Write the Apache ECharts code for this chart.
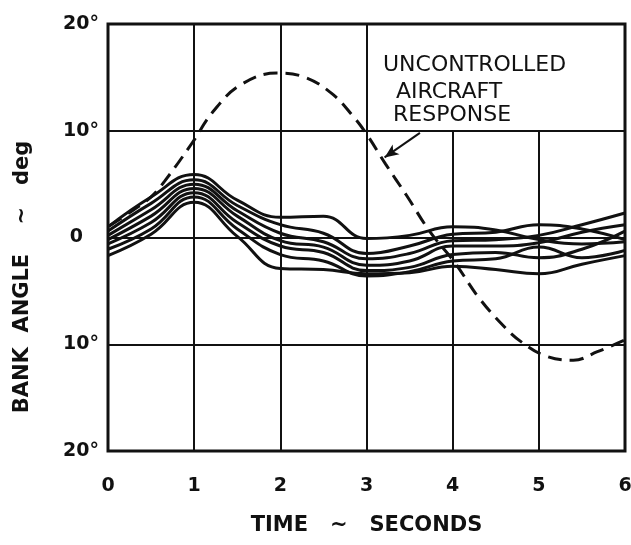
<!DOCTYPE html>
<html>
<head>
<meta charset="utf-8">
<script src="https://cdn.jsdelivr.net/npm/echarts@6/dist/echarts.min.js"></script>
<style>
  html, body { margin: 0; padding: 0; background: #fff; }
  #chart { width: 631px; height: 545px; }
</style>
</head>
<body>
<div id="chart"></div>
<script>
// time axis for the controlled runs (seconds)
const times = [0, 0.5, 1, 1.5, 2, 2.5, 3, 3.5, 4, 4.5, 5, 5.5, 6];

// controlled responses, bank angle in deg
const run1 = [1.0, 3.8, 5.9, 3.5, 1.9, 2.0, -0.1, 0.2, 1.0, 0.7, -0.2, -0.6, -0.4];
const run2 = [0.6, 3.2, 5.4, 3.0, 1.2, 0.4, -1.5, -0.8, 0.3, 0.5, 1.2, 0.8, -0.2];
const run3 = [0.2, 2.6, 5.0, 2.5, 0.4, -0.4, -2.0, -1.5, -0.3, -0.2, 0.2, 1.2, 2.3];
const run4 = [-0.2, 2.0, 4.6, 2.0, -0.3, -0.9, -2.6, -2.2, -0.8, -0.8, -0.5, 0.5, 1.2];
const run5 = [-0.6, 1.4, 4.2, 1.4, -0.8, -1.4, -3.1, -2.8, -1.6, -1.4, -1.9, -1.1, 0.6];
const run6 = [-1.1, 0.8, 3.8, 0.8, -1.6, -2.2, -3.6, -3.2, -2.2, -2.0, -0.9, -1.9, -1.2];
const run7 = [-1.7, 0.3, 3.3, 0.1, -2.9, -3.0, -3.4, -3.3, -2.7, -3.0, -3.4, -2.5, -1.7];

// uncontrolled aircraft (dashed)
const freeTimes = [0, 0.3, 0.5, 0.66, 0.98, 1.22, 1.54, 1.96, 2.29, 2.61, 2.84, 3.0, 3.22, 3.46, 3.74, 4.02, 4.3, 4.58, 4.8, 5.08, 5.4, 5.68, 6.0];
const freeAngle = [1.0, 2.6, 3.8, 5.3, 8.9, 11.8, 14.3, 15.4, 15.0, 13.4, 11.4, 9.7, 6.9, 4.0, 0.5, -2.3, -5.6, -8.2, -9.8, -11.1, -11.5, -10.7, -9.6];

// axis ticks
const xTicks = [0, 1, 2, 3, 4, 5, 6];
const yTickLabels = { '20': '20°', '10': '10°', '0': '0', '-10': '10°', '-20': '20°' };

const ink = '#111';
const font = 'DejaVu Sans';

const zip = (xs, ys) => xs.map((x, i) => [x, ys[i]]);

let chart = echarts.init(document.getElementById('chart'));

const runs = [run1, run2, run3, run4, run5, run6, run7];
let series = runs.map(function (r, i) {
  return {
    name: 'run' + (i + 1),
    type: 'line',
    data: zip(times, r),
    smooth: 0.45,
    showSymbol: false,
    lineStyle: { color: ink, width: 3 },
    z: 3
  };
});

// vertical grid lines: 1..3 go full height, 4 and 5 stop at the 10 deg line (label box)
let vLines = [];
xTicks.slice(1, 6).forEach(function (t) {
  vLines.push([{ coord: [t, -20] }, { coord: [t, t > 3 ? 10 : 20] }]);
});

series.push({
  name: 'uncontrolled',
  type: 'line',
  data: zip(freeTimes, freeAngle),
  smooth: 0.4,
  showSymbol: false,
  lineStyle: { color: ink, width: 3, type: [14, 8], dashOffset: 20 },
  z: 2,
  markLine: {
    silent: true,
    symbol: 'none',
    animation: false,
    label: { show: false },
    lineStyle: { color: ink, width: 2, type: 'solid' },
    data: vLines.concat([
      [
        { coord: [3.62, 9.8], symbol: 'none' },
        { coord: [3.21, 7.5], symbol: 'arrow', symbolSize: [9, 14] }
      ]
    ])
  }
});

chart.setOption({
  animation: false,
  backgroundColor: '#fff',
  grid: {
    left: 108,
    right: 6,
    top: 24,
    bottom: 94,
    show: true,
    borderColor: ink,
    borderWidth: 3,
    outerBoundsMode: 'none'
  },
  xAxis: {
    type: 'value',
    min: 0,
    max: 6,
    interval: 1,
    name: 'TIME   ~   SECONDS',
    nameLocation: 'middle',
    nameGap: 64,
    nameTextStyle: { color: ink, fontFamily: font, fontWeight: 'bold', fontSize: 21 },
    axisLine: { show: false },
    axisTick: { show: false },
    splitLine: { show: false },
    axisLabel: {
      color: ink,
      fontFamily: font,
      fontWeight: 'bold',
      fontSize: 19,
      margin: 26,
      formatter: function (v) { return String(v); }
    }
  },
  yAxis: {
    type: 'value',
    min: -20,
    max: 20,
    interval: 10,
    axisLine: { show: false },
    axisTick: { show: false },
    splitLine: { show: true, lineStyle: { color: ink, width: 2 } },
    axisLabel: {
      color: ink,
      fontFamily: font,
      fontWeight: 'bold',
      fontSize: 19,
      margin: 9,
      formatter: function (v) {
        return v === 0 ? '{z|0}' : yTickLabels[String(v)];
      },
      rich: {
        z: { color: ink, fontFamily: font, fontWeight: 'bold', fontSize: 19, padding: [0, 16, 0, 0] }
      }
    }
  },
  graphic: [
    {
      type: 'text',
      x: 23,
      y: 277,
      rotation: Math.PI / 2,
      style: {
        text: 'BANK  ANGLE    ~   deg',
        fill: ink,
        font: 'bold 21px "DejaVu Sans"',
        textAlign: 'center',
        textVerticalAlign: 'middle'
      }
    },
    {
      type: 'text',
      left: 383,
      top: 54,
      style: { text: 'UNCONTROLLED', fill: ink, font: '22px "DejaVu Sans"' }
    },
    {
      type: 'text',
      left: 396,
      top: 81,
      style: { text: 'AIRCRAFT', fill: ink, font: '22px "DejaVu Sans"' }
    },
    {
      type: 'text',
      left: 393,
      top: 104,
      style: { text: 'RESPONSE', fill: ink, font: '22px "DejaVu Sans"' }
    }
  ],
  series: series
});
</script>
</body>
</html>
